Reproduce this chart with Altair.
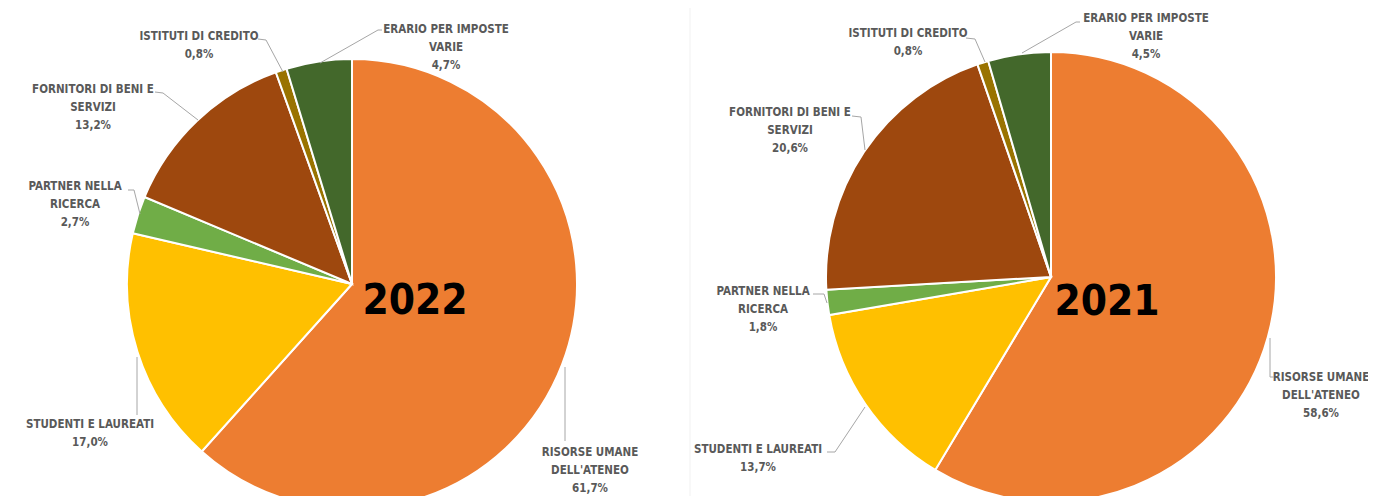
import altair as alt
import pandas as pd

# ---------------- data ----------------
CATEGORIES = [
    "RISORSE UMANE\nDELL'ATENEO",
    "STUDENTI E LAUREATI",
    "PARTNER NELLA\nRICERCA",
    "FORNITORI DI BENI E\nSERVIZI",
    "ISTITUTI DI CREDITO",
    "ERARIO PER IMPOSTE\nVARIE",
]
YEARS = ["2022", "2021"]
VALUES_2022 = [61.7, 17.0, 2.7, 13.2, 0.8, 4.7]
VALUES_2021 = [58.6, 13.7, 1.8, 20.6, 0.8, 4.5]
VALUES = {"2022": VALUES_2022, "2021": VALUES_2021}
COLORS = ["#ED7D31", "#FFC000", "#70AD47", "#9E480E", "#997300", "#43682B"]

# ---------------- layout (page pixel coords) ----------------
W, H = 1360, 488
PIE_CENTER = {"2022": (352, 284), "2021": (1051, 277)}
PIE_RADIUS = 225
YEAR_POS = {"2022": (415, 301), "2021": (1107, 302)}
LINE_GAP = 18.2
LABEL_POS = {
    "2022": [(590, 453), (90, 425), (75, 187), (93, 90), (199, 37), (446, 30)],
    "2021": [(1321, 378), (758, 450), (763, 292), (790, 113), (908, 34), (1146, 19)],
}
LEADERS = {
    "2022": [
        [(565, 367), (565, 441)],
        [(137, 357), (137, 415)],
        [(128, 190), (134, 190), (140, 214)],
        [(155, 92), (163, 93), (198, 120)],
        [(258, 39), (266, 40), (283, 72)],
        [(382, 30), (378, 30), (320, 63)],
    ],
    "2021": [
        [(1274, 377), (1270, 377), (1270, 338)],
        [(827, 452), (835, 452), (865, 407)],
        [(813, 294), (824, 294), (827, 303)],
        [(852, 116), (861, 117), (865, 150)],
        [(966, 38), (975, 39), (985, 62)],
        [(1080, 22), (1076, 22), (1022, 53)],
    ],
}
SEPARATOR_X = 690

FONT = "Liberation Sans Narrow, DejaVu Sans Condensed, Roboto, sans-serif"
TEXT_COLOR = "#595959"
LEADER_COLOR = "#A6A6A6"

xs = alt.Scale(domain=[8, 8 + W], nice=False, zero=False)
ys = alt.Scale(domain=[8, 8 + H], nice=False, zero=False, reverse=True)


def X(field):
    return alt.X(field, type="quantitative", scale=xs, axis=None)


def Y(field):
    return alt.Y(field, type="quantitative", scale=ys, axis=None)


layers = []

# separator
sep_df = pd.DataFrame({"x": [SEPARATOR_X, SEPARATOR_X], "y": [8, 8 + H], "k": [0, 1]})
layers.append(
    alt.Chart(sep_df).mark_line(color="#f1f1f1", strokeWidth=1).encode(
        x=X("x"), y=Y("y"), order="k:Q"
    )
)

for yr in YEARS:
    vals = VALUES[yr]
    pie_df = pd.DataFrame(
        {"cat": CATEGORIES, "value": vals, "idx": list(range(len(CATEGORIES)))}
    )
    cx, cy = PIE_CENTER[yr]
    pie = (
        alt.Chart(pie_df)
        .mark_arc(radius=PIE_RADIUS, stroke="white", strokeWidth=2)
        .encode(
            x=alt.datum(cx, type="quantitative", scale=xs, axis=None),
            y=alt.datum(cy, type="quantitative", scale=ys, axis=None),
            theta=alt.Theta("value:Q", stack=True),
            order=alt.Order("idx:Q"),
            color=alt.Color(
                "cat:N", scale=alt.Scale(domain=CATEGORIES, range=COLORS), legend=None
            ),
        )
    )
    layers.append(pie)

for yr in YEARS:
    vals = VALUES[yr]
    rows = []
    for i, cat in enumerate(CATEGORIES):
        lines = cat.split("\n") + [f"{vals[i]:.1f}".replace(".", ",") + "%"]
        x0, y0 = LABEL_POS[yr][i]
        for j, t in enumerate(lines):
            rows.append({"t": t, "x": x0, "y": y0 + j * LINE_GAP})
    lab_df = pd.DataFrame(rows)
    layers.append(
        alt.Chart(lab_df)
        .mark_text(
            font=FONT, fontSize=11.5, fontWeight="bold", color=TEXT_COLOR,
            align="center", baseline="middle",
        )
        .encode(x=X("x"), y=Y("y"), text="t:N")
    )
    lrows = []
    for i, pts in enumerate(LEADERS[yr]):
        for k, (px, py) in enumerate(pts):
            lrows.append({"key": f"{yr}-{i}", "o": k, "x": px, "y": py})
    lead_df = pd.DataFrame(lrows)
    layers.append(
        alt.Chart(lead_df)
        .mark_line(color=LEADER_COLOR, strokeWidth=1)
        .encode(x=X("x"), y=Y("y"), detail="key:N", order="o:Q")
    )

year_df = pd.DataFrame(
    {"t": YEARS, "x": [YEAR_POS[y][0] for y in YEARS], "y": [YEAR_POS[y][1] for y in YEARS]}
)
layers.append(
    alt.Chart(year_df)
    .mark_text(font=FONT, fontSize=42, fontWeight="bold", color="black",
               align="center", baseline="middle")
    .encode(x=X("x"), y=Y("y"), text="t:N")
)

chart = (
    alt.layer(*layers)
    .resolve_scale(theta="independent", color="shared")
    .properties(
        width=W, height=H, padding=0, background="white",
        autosize=alt.AutoSizeParams(type="none"),
    )
    .configure_view(stroke=None)
)

chart.save("out.html", embed_options={"renderer": "svg", "actions": False})
